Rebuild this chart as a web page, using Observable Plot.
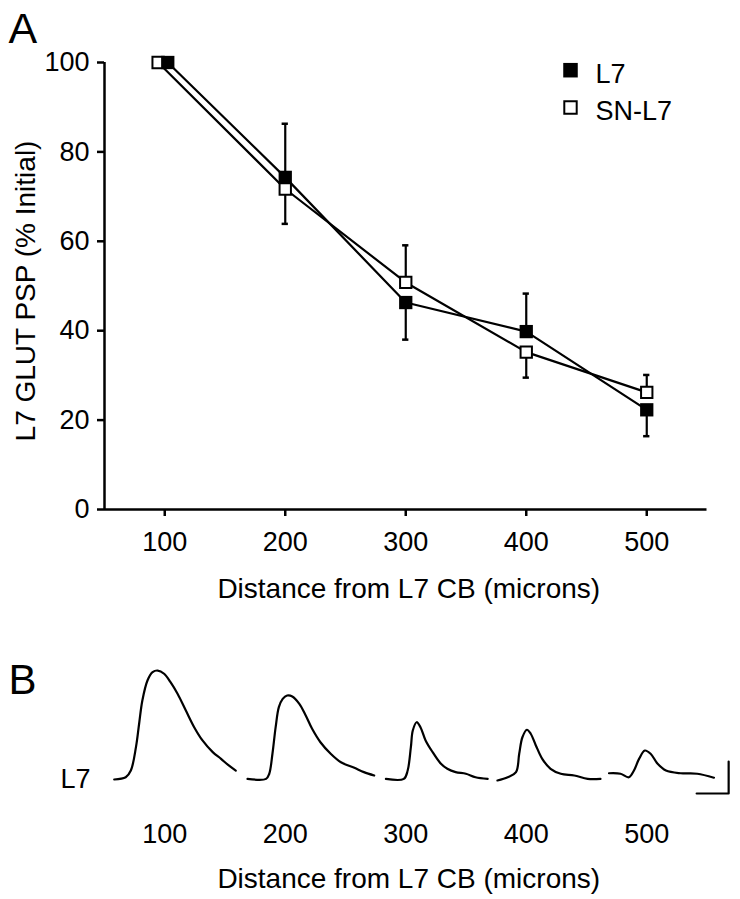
<!DOCTYPE html>
<html><head><meta charset="utf-8">
<script src="https://cdn.jsdelivr.net/npm/d3@7"></script>
<script src="https://cdn.jsdelivr.net/npm/@observablehq/plot@0.6"></script>
<style>
body{margin:0;background:#fff;}
#chart{width:740px;}
#chart svg{display:block;}
</style></head><body><div id="chart"></div>
<script>
// ---- Panel A data ----
const distances = [100, 200, 300, 400, 500];
const l7X = [102.5, 200, 300, 400, 500];
const snX = [94.5, 200, 300, 400, 500];
const l7Values = [100, 74.3, 46.3, 39.8, 22.3];
const snValues = [100, 71.7, 50.8, 35.2, 26.2];
const l7Sem = [0, 12.0, 8.3, 8.5, 5.9];
const snSem = [0, 7.8, 8.3, 5.7, 3.9];
const yTicks = [0, 20, 40, 60, 80, 100];
const seriesNames = ["L7", "SN-L7"];
const xTitle = "Distance from L7 CB (microns)";
const yTitle = "L7 GLUT PSP (% Initial)";

// ---- Panel B data: [ms relative to label, mV] ----
const trace100 = [[-79,0],[-61,0.14],[-53,0.56],[-45,2.02],[-40,3.5],[-35,4.94],[-27,6.19],[-19,6.71],[-11,6.81],[-1,6.61],[9,6.08],[20,5.36],[33,4.31],[46,3.27],[59,2.44],[75,1.71],[88,1.29],[100,0.88],[111,0.56]];
const trace200 = [[-59,0.04],[-30,0.04],[-25,0.36],[-20,1.61],[-15,3.27],[-10,4.52],[-4,5.04],[3,5.25],[11,5.19],[22,4.73],[32,4.0],[42,3.17],[55,2.33],[71,1.61],[87,1.08],[108,0.73],[123,0.46],[139,0.25]];
const trace300 = [[-31,0.04],[-3,0.04],[3,0.56],[8,2.02],[11,3.06],[17,3.58],[23,3.27],[31,2.44],[42,1.71],[55,0.98],[65,0.67],[78,0.46],[94,0.36],[109,0.14],[128,0.04]];
const trace400 = [[-45,-0.06],[-29,0.14],[-16,0.46],[-11,1.61],[-6,2.64],[1,3.11],[7,2.86],[15,2.13],[25,1.29],[38,0.67],[54,0.36],[75,0.25],[96,0.04],[116,0.04]];
const trace500 = [[-59,0.39],[-41,0.36],[-28,0.14],[-20,0.56],[-12,1.29],[-3,1.81],[6,1.61],[17,0.98],[30,0.56],[53,0.39],[79,0.36],[105,0.11]];
const traces = [trace100, trace200, trace300, trace400, trace500];
const scaleBarMs = 50, scaleBarMv = 2;

// ---- layout constants ----
const FONT = "'Liberation Sans', Arial, Helvetica, sans-serif";
const W = 740, ML = 104, MR = 33.5;
const MS_TO_X = 0.531; // distance units per ms in panel B

// ---- tables ----
const l7Rows = l7X.map((x, i) => ({x, y: l7Values[i]}));
const snRows = snX.map((x, i) => ({x, y: snValues[i]}));
const errRows = [];
distances.forEach((d, i) => {
  if (l7Sem[i] > 0) {
    const up = l7Values[i] >= snValues[i];
    errRows.push({x: l7X[i], y1: l7Values[i], y2: l7Values[i] + (up ? 1 : -1) * l7Sem[i]});
  }
  if (snSem[i] > 0) {
    const up = snValues[i] > l7Values[i];
    errRows.push({x: snX[i], y1: snValues[i], y2: snValues[i] + (up ? 1 : -1) * snSem[i]});
  }
});

const style = {fontFamily: FONT, fontSize: "27px", color: "black", background: "white", overflow: "visible"};

const plotA = Plot.plot({
  width: W, height: 615,
  marginLeft: ML, marginRight: MR, marginTop: 62, marginBottom: 106,
  style,
  x: {domain: [50, 550]},
  y: {domain: [0, 100]},
  marks: [
    Plot.ruleY([0], {strokeWidth: 2.5}),
    Plot.ruleX([50], {strokeWidth: 2.5}),
    Plot.axisX(distances, {tickSize: 7, tickPadding: 15, strokeWidth: 2.5, label: null, fontSize: 27}),
    Plot.axisY(yTicks, {tickSize: 7, tickPadding: 8, strokeWidth: 2.5, label: null, fontSize: 27}),
    Plot.line(snRows, {x: "x", y: "y", stroke: "black", strokeWidth: 2.2}),
    Plot.line(l7Rows, {x: "x", y: "y", stroke: "black", strokeWidth: 2.2}),
    Plot.ruleX(errRows, {x: "x", y1: "y1", y2: "y2", strokeWidth: 2.2}),
    Plot.ruleY(errRows, {y: "y2", x1: d => d.x - 2.6, x2: d => d.x + 2.6, strokeWidth: 2.5}),
    Plot.dot(snRows, {x: "x", y: "y", symbol: "square", r: 6.4, fill: "white", stroke: "black", strokeWidth: 2}),
    Plot.dot(l7Rows, {x: "x", y: "y", symbol: "square", r: 7.5, fill: "black"}),
    // legend
    Plot.dot([seriesNames[0]], {frameAnchor: "top-left", dx: 466, dy: 7.7, symbol: "square", r: 8.2, fill: "black"}),
    Plot.dot([seriesNames[1]], {frameAnchor: "top-left", dx: 466, dy: 45, symbol: "square", r: 7, fill: "white", stroke: "black", strokeWidth: 2}),
    Plot.text([seriesNames[0]], {frameAnchor: "top-left", dx: 491, dy: 20, text: d => d, textAnchor: "start", lineAnchor: "bottom", fontSize: 27}),
    Plot.text([seriesNames[1]], {frameAnchor: "top-left", dx: 491, dy: 57, text: d => d, textAnchor: "start", lineAnchor: "bottom", fontSize: 27}),
    // titles
    Plot.text([xTitle], {frameAnchor: "bottom", dx: 3, dy: 88, text: d => d, textAnchor: "middle", lineAnchor: "bottom", fontSize: 28}),
    Plot.text([yTitle], {frameAnchor: "left", rotate: -90, dx: -70, dy: 5, text: d => d, textAnchor: "middle", lineAnchor: "bottom", fontSize: 28}),
    Plot.text(["A"], {frameAnchor: "top-left", dx: -96, dy: -20, text: d => d, textAnchor: "start", lineAnchor: "bottom", fontSize: 43})
  ]
});

// panel B table
const traceRows = [];
traces.forEach((tr, k) => {
  tr.forEach(([ms, mv]) => traceRows.push({dist: distances[k], x: distances[k] + ms * MS_TO_X, y: mv}));
});
const barEndMs = 128, barBottomMv = -0.875;
const barRows = [
  {x: distances[4] + (barEndMs - scaleBarMs) * MS_TO_X, y: barBottomMv},
  {x: distances[4] + barEndMs * MS_TO_X, y: barBottomMv},
  {x: distances[4] + barEndMs * MS_TO_X, y: barBottomMv + scaleBarMv}
];

const plotB = Plot.plot({
  width: W, height: 284,
  marginLeft: ML, marginRight: MR, marginTop: 36, marginBottom: 96,
  style,
  x: {domain: [50, 550]},
  y: {domain: [-1.5, 8], axis: null},
  marks: [
    Plot.line(traceRows, {x: "x", y: "y", z: "dist", stroke: "black", strokeWidth: 2.2, strokeLinejoin: "round", curve: "catmull-rom"}),
    Plot.line(barRows, {x: "x", y: "y", stroke: "black", strokeWidth: 2.2}),
    Plot.axisX(distances, {tickSize: 0, tickPadding: 20, label: null, fontSize: 27}),
    Plot.text([0], {y: d => d, frameAnchor: "left", textAnchor: "end", dx: -14, text: () => seriesNames[0], fontSize: 27}),
    Plot.text([xTitle], {frameAnchor: "bottom", dx: 3, dy: 84, text: d => d, textAnchor: "middle", lineAnchor: "bottom", fontSize: 28}),
    Plot.text(["B"], {frameAnchor: "top-left", dx: -96, dy: 42, text: d => d, textAnchor: "start", lineAnchor: "bottom", fontSize: 42})
  ]
});

document.getElementById("chart").append(plotA, plotB);
</script></body></html>
